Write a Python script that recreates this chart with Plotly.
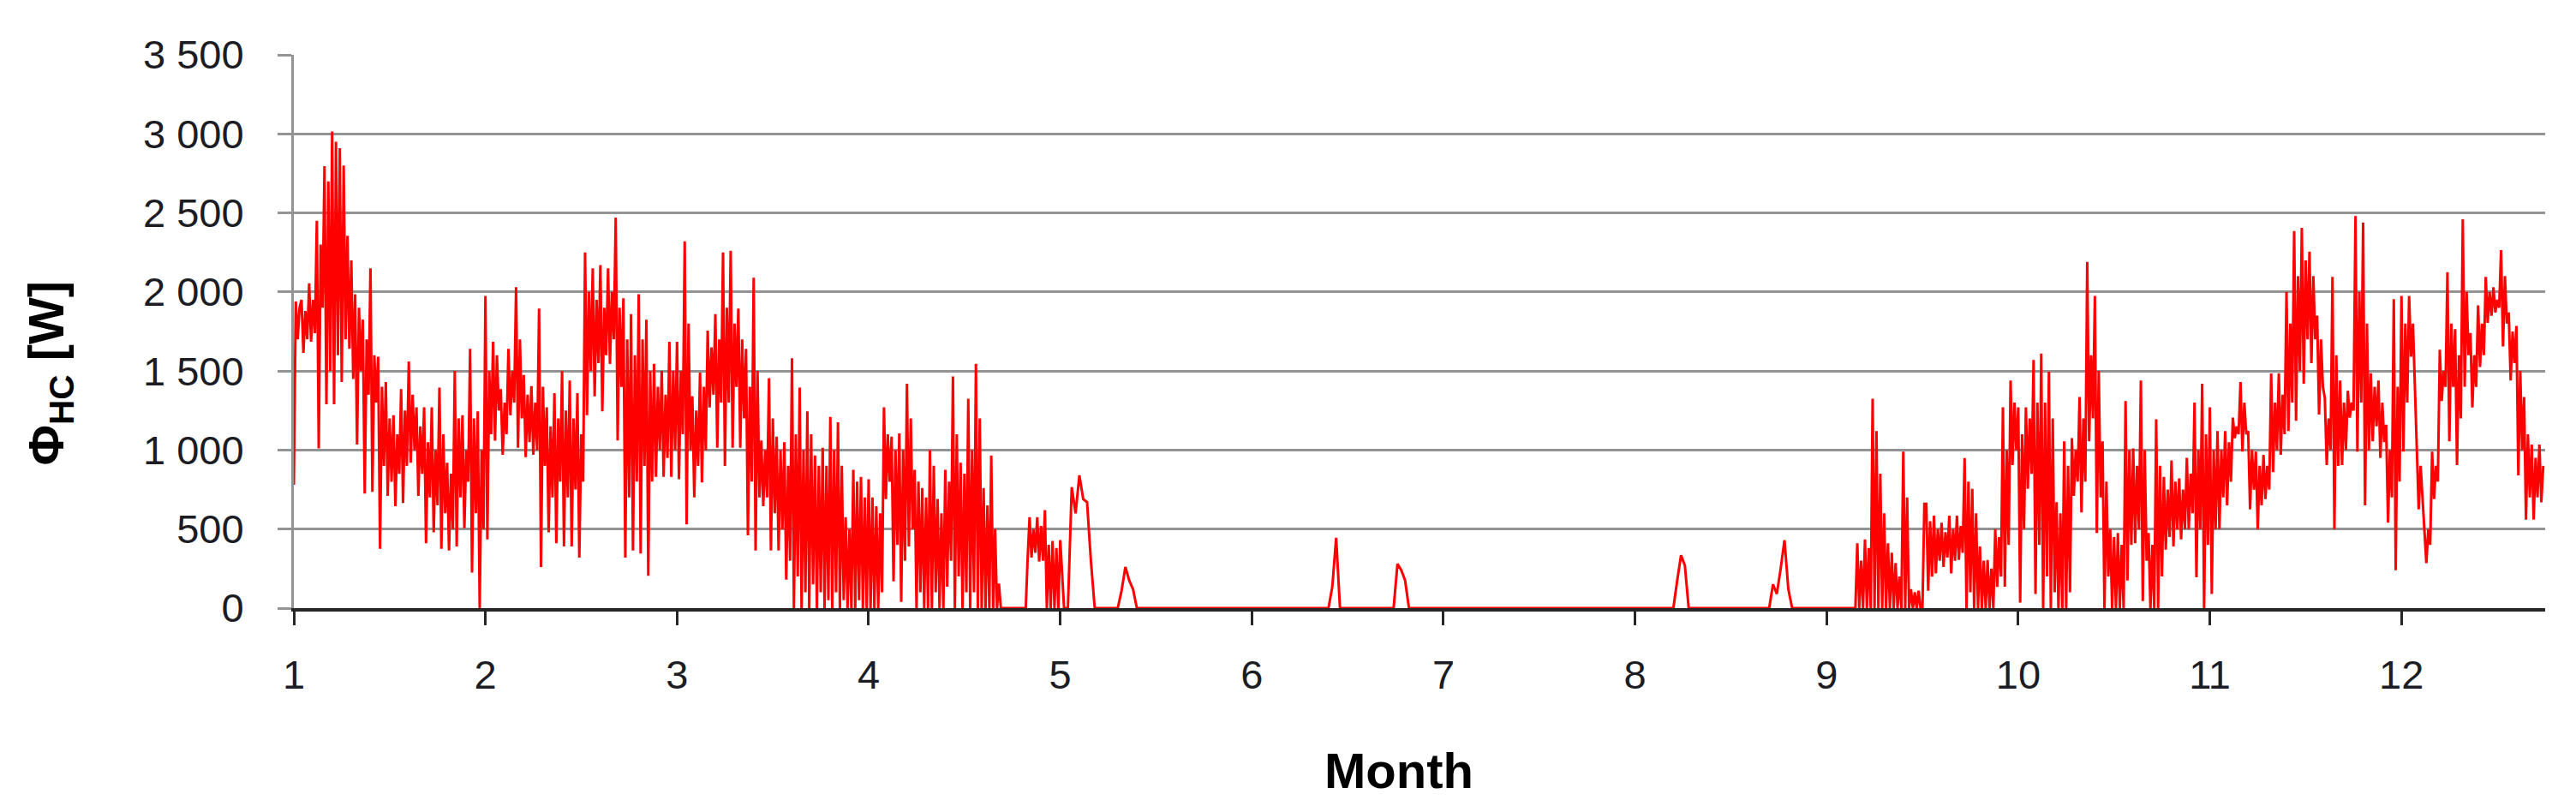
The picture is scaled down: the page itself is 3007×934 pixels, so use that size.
import plotly.graph_objects as go

# Heating/cooling load Φ_HC [W], one list per month.
# Busy months are read every 0.01 month, the quiet summer months every 0.02 month.
jan = [780, 1940, 1700, 1900, 1950, 1615, 1880, 1700, 2055, 1685, 1950, 1740,
       2450, 1010, 2300, 1900, 2795, 1290, 2700, 1500, 3015, 1290, 2950, 1600,
       2910, 1430, 2800, 1700, 2355, 1640, 2200, 1450, 1985, 1035, 1900, 1500,
       1825, 725, 1700, 1350, 2150, 735, 1600, 1300, 1590, 375, 1400, 900,
       1430, 710, 1200, 800, 1220, 645, 1100, 850, 1385, 665, 1250, 900,
       1560, 920, 1350, 1000, 1270, 710, 1150, 850, 1270, 410, 1050, 700,
       1270, 480, 1000, 650, 1395, 375, 1100, 600, 920, 365, 850, 500,
       1500, 390, 1200, 700, 1220, 505, 1000, 800, 1640, 225, 1200, 600,
       1245, 0, 1000, 500]
feb = [1975, 435, 1500, 1100, 1685, 1060, 1600, 1250, 1385, 970, 1300, 1100,
       1640, 1220, 1500, 1300, 2030, 1015, 1700, 1200, 1475, 955, 1350, 1050,
       1405, 970, 1300, 1000, 1895, 260, 1400, 900, 1270, 480, 1150, 700,
       1360, 410, 1200, 800, 1500, 390, 1250, 700, 1440, 390, 1200, 750,
       1360, 320, 1100, 800, 2250, 1220, 2000, 1500, 2150, 1340, 1950, 1550,
       2170, 1245, 1900, 1600, 2150, 1545, 2000, 1700, 2470, 1060, 1900, 1400,
       1960, 320, 1700, 700, 1860, 365, 1600, 800, 1985, 345, 1700, 900,
       1825, 205, 1500, 800, 1545, 830, 1400, 1000, 1500, 830, 1350, 950,
       1685, 830, 1500, 1000]
mar = [1685, 815, 1500, 1100, 2320, 530, 1800, 1000, 1340, 700, 1250, 900,
       1490, 795, 1400, 1000, 1755, 1270, 1650, 1350, 1860, 1015, 1700, 1300,
       2250, 900, 1900, 1300, 2260, 1015, 1800, 1400, 1895, 1015, 1700, 1200,
       1640, 460, 1400, 800, 2090, 365, 1500, 700, 1060, 645, 1000, 700,
       1455, 365, 1200, 600, 1085, 365, 1000, 500, 1050, 180, 900, 300,
       1580, 0, 1100, 200, 1395, 0, 1000, 100, 1245, 0, 1100, 150,
       965, 0, 900, 100, 1015, 0, 900, 50, 1210, 0, 1000, 100,
       1175, 0, 900, 50, 575, 0, 500, 0, 875, 0, 800, 50,
       830, 0, 700, 0]
apr = [815, 0, 700, 0, 645, 0, 600, 100, 1270, 690, 1100, 800,
       1085, 170, 1000, 400, 1105, 40, 1000, 300, 1420, 390, 1200, 500,
       875, 0, 800, 100, 760, 0, 700, 0, 1000, 0, 900, 100,
       690, 0, 600, 0, 875, 135, 800, 300, 1465, 0, 1100, 200,
       920, 0, 850, 100, 1325, 0, 1000, 100, 1545, 0, 1200, 0,
       760, 0, 650, 0, 965, 0, 500, 0, 155, 0, 0, 0,
       0, 0, 0, 0, 0, 0, 0, 0, 0, 0, 0, 320,
       575, 320, 500, 350, 575, 295, 520, 300, 620, 0, 400, 0,
       425, 0, 380, 0]
may = [430, 0, 0, 765, 600, 840, 690, 670, 300, 0, 0, 0, 0, 0, 0, 0, 110, 260, 175, 120,
       0, 0, 0, 0, 0, 0, 0, 0, 0, 0, 0, 0, 0, 0, 0, 0, 0, 0, 0, 0,
       0, 0, 0, 0, 0, 0, 0, 0, 0, 0]
jun = [0, 0, 0, 0, 0, 0, 0, 0, 0, 0, 0, 0, 0, 0, 0, 0, 0, 0, 0, 0,
       0, 135, 445, 0, 0, 0, 0, 0, 0, 0, 0, 0, 0, 0, 0, 0, 0, 0, 280, 240,
       175, 0, 0, 0, 0, 0, 0, 0, 0, 0]
jul = [0, 0, 0, 0, 0, 0, 0, 0, 0, 0, 0, 0, 0, 0, 0, 0, 0, 0, 0, 0,
       0, 0, 0, 0, 0, 0, 0, 0, 0, 0, 0, 0, 0, 0, 0, 0, 0, 0, 0, 0,
       0, 0, 0, 0, 0, 0, 0, 0, 0, 0]
aug = [0, 0, 0, 0, 0, 0, 0, 0, 0, 0, 0, 175, 335, 270, 0, 0, 0, 0, 0, 0,
       0, 0, 0, 0, 0, 0, 0, 0, 0, 0, 0, 0, 0, 0, 0, 0, 150, 90, 250, 430,
       120, 0, 0, 0, 0, 0, 0, 0, 0, 0]
sep = [0, 0, 0, 0, 0, 0, 0, 0, 0, 0, 0, 0, 0, 0, 0, 0,
       410, 0, 300, 0, 435, 0, 380, 0, 1325, 0, 1120, 0, 850, 0, 600, 0,
       410, 0, 350, 0, 285, 0, 200, 0, 990, 0, 700, 0, 120, 0, 100, 0,
       110, 0, 0, 660, 660, 110, 550, 200, 585, 220, 500, 300, 540, 260, 480, 320,
       585, 220, 500, 300, 585, 305, 520, 350, 950, 0, 800, 100, 755, 0, 600, 0,
       390, 0, 300, 0, 305, 0, 250, 0, 500, 135, 450, 200, 1270, 135, 1000, 400,
       1440, 905, 1300, 1000]
oct_ = [1270, 35, 1100, 500, 1270, 755, 1200, 850, 1570, 90, 1300, 400,
        1610, 0, 1300, 200, 1495, 0, 1200, 100, 670, 0, 600, 0,
        1055, 0, 900, 100, 1075, 710, 1000, 800, 1335, 605, 1200, 800,
        2190, 1055, 1600, 1200, 1975, 475, 1500, 700, 1055, 0, 800, 200,
        500, 0, 450, 0, 475, 0, 400, 0, 1310, 175, 1000, 400,
        1010, 410, 900, 500, 1440, 45, 1000, 300, 475, 0, 400, 0,
        1195, 0, 900, 200, 830, 370, 750, 450, 935, 390, 800, 500,
        820, 435, 750, 500, 950, 500, 850, 600, 1300, 195, 1000, 500,
        1420, 0, 1100, 400]
nov = [1270, 90, 1000, 500, 1120, 500, 1000, 700, 1120, 650, 1050, 800,
       1205, 1075, 1150, 1100, 1430, 990, 1300, 1100, 1120, 625, 1000, 750,
       990, 500, 900, 650, 970, 690, 900, 750, 1485, 860, 1300, 1000,
       1485, 970, 1350, 1100, 2000, 1120, 1800, 1300, 2385, 1185, 2100, 1500,
       2405, 1420, 2200, 1700, 2255, 1550, 2100, 1700, 1850, 1225, 1700, 1400,
       1330, 905, 1200, 1000, 2095, 500, 1600, 900, 1440, 905, 1300, 1000,
       1375, 1205, 1300, 1250, 2480, 990, 2000, 1300, 2440, 650, 1800, 1000,
       1485, 1055, 1400, 1150, 1440, 950, 1300, 1050, 1160, 540, 1000, 700,
       1955, 240, 1400, 800]
dec = [1975, 990, 1800, 1300, 1975, 1590, 1800, 1400, 990, 625, 900, 700,
       540, 285, 500, 400, 990, 690, 900, 800, 1635, 1310, 1500, 1400,
       2125, 1055, 1800, 1400, 1765, 905, 1600, 1200, 2460, 1400, 2000, 1600,
       1740, 1270, 1600, 1400, 1915, 1525, 1800, 1600, 2095, 1805, 2000, 1850,
       2030, 1870, 1950, 1900, 2265, 1655, 2100, 1800, 1870, 1440, 1750, 1550,
       1785, 840, 1500, 1000, 1335, 560, 1100, 700, 1035, 560, 950, 700,
       1035, 670, 900]

month_series = [jan, feb, mar, apr, may, jun, jul, aug, sep, oct_, nov, dec]
month_ticks = [1, 2, 3, 4, 5, 6, 7, 8, 9, 10, 11, 12]
month_span = [1, 1, 1, 1, 1, 1, 1, 1, 1, 1, 1, 0.75]   # December shown up to 12.75

xs, ys = [], []
for m, span, vals in zip(month_ticks, month_span, month_series):
    n = len(vals)
    for i, v in enumerate(vals):
        xs.append(m + i * span / n)
        ys.append(v)

FONT = "Liberation Sans, Arial, sans-serif"
GRID = "#939393"

fig = go.Figure()
fig.add_trace(go.Scatter(x=xs, y=ys, mode="lines",
                         line=dict(color="#ff0000", width=3),
                         showlegend=False, hoverinfo="skip"))

fig.update_layout(
    width=3007, height=934,
    margin=dict(l=335, r=44, t=56, b=232),
    paper_bgcolor="white", plot_bgcolor="white",
    separators=". ",
    font=dict(family=FONT, color="#1c1c24"),
    xaxis=dict(range=[1, 12.75], tickvals=month_ticks,
               showgrid=False, zeroline=False,
               showline=True, linecolor="#262626", linewidth=4,
               ticks="outside", ticklen=16, tickwidth=3, tickcolor="#262626",
               ticklabelstandoff=18,
               tickfont=dict(size=47, family=FONT, color="#1c1c24")),
    yaxis=dict(range=[0, 3500], dtick=500, tick0=0,
               showgrid=True, gridcolor=GRID, gridwidth=3,
               zeroline=False,
               showline=True, linecolor=GRID, linewidth=3,
               ticks="outside", ticklen=16, tickwidth=3, tickcolor=GRID,
               ticklabelstandoff=30, tickformat=",d",
               tickfont=dict(size=47, family=FONT, color="#1c1c24")),
    annotations=[
        dict(text="Month", xref="paper", yref="paper", x=0.491, y=-0.294,
             xanchor="center", yanchor="middle", showarrow=False,
             font=dict(size=58, family=FONT, color="#000000", weight="bold")),
        dict(text="Φ<sub>HC</sub> [W]", xref="paper", yref="paper",
             x=-0.1084, y=0.425, textangle=-90,
             xanchor="center", yanchor="middle", showarrow=False,
             font=dict(size=58, family=FONT, color="#000000", weight="bold")),
    ],
)

fig.write_html("out.html")
